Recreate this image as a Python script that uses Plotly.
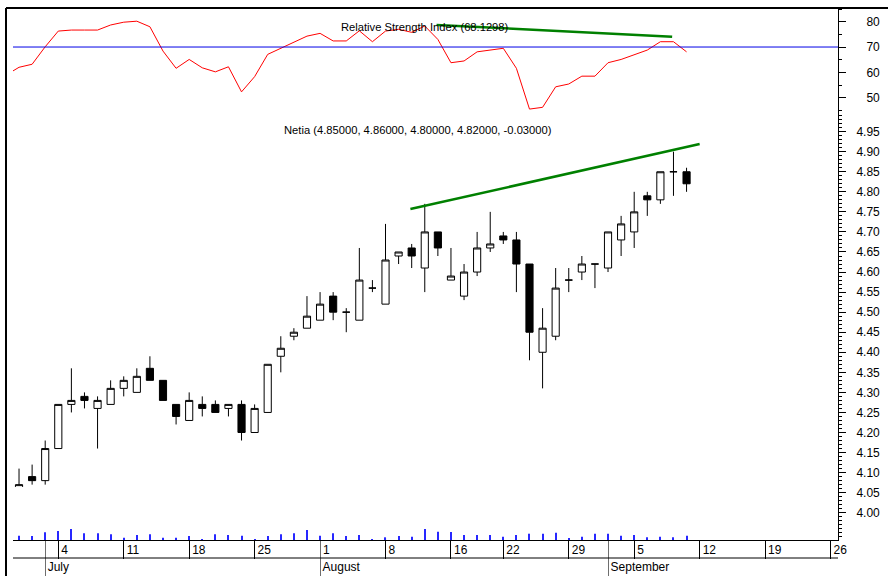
import plotly.graph_objects as go

# Netia daily candles, 29 Jun - 9 Sep 2005; x is the trading-day number (0 = 29 Jun)
day_idx = list(range(52))
opens = [4.05, 4.09, 4.08, 4.16, 4.27, 4.29, 4.26, 4.27, 4.31, 4.30,
         4.36, 4.33, 4.27, 4.23, 4.27, 4.27, 4.26, 4.27, 4.20, 4.25,
         4.39, 4.44, 4.46, 4.48, 4.54, 4.50, 4.48, 4.56, 4.52, 4.64,
         4.66, 4.61, 4.70, 4.58, 4.54, 4.60, 4.66, 4.69, 4.68, 4.62,
         4.40, 4.44, 4.58, 4.60, 4.62, 4.61, 4.68, 4.70, 4.79, 4.78,
         4.85, 4.85]
highs = [4.11, 4.12, 4.18, 4.27, 4.36, 4.30, 4.29, 4.33, 4.34, 4.36,
         4.39, 4.33, 4.27, 4.30, 4.29, 4.28, 4.27, 4.28, 4.27, 4.37,
         4.44, 4.46, 4.54, 4.55, 4.55, 4.51, 4.66, 4.58, 4.72, 4.65,
         4.67, 4.77, 4.70, 4.66, 4.62, 4.70, 4.75, 4.70, 4.70, 4.62,
         4.51, 4.61, 4.61, 4.64, 4.62, 4.70, 4.74, 4.80, 4.80, 4.85,
         4.90, 4.86]
lows = [4.05, 4.07, 4.07, 4.16, 4.25, 4.26, 4.16, 4.27, 4.29, 4.30,
        4.33, 4.28, 4.22, 4.23, 4.24, 4.25, 4.24, 4.18, 4.20, 4.25,
        4.35, 4.43, 4.46, 4.48, 4.48, 4.45, 4.48, 4.55, 4.52, 4.62,
        4.61, 4.55, 4.64, 4.58, 4.53, 4.59, 4.65, 4.67, 4.55, 4.38,
        4.31, 4.43, 4.55, 4.58, 4.56, 4.60, 4.64, 4.66, 4.74, 4.77,
        4.79, 4.80]
closes = [4.07, 4.08, 4.16, 4.27, 4.28, 4.28, 4.28, 4.31, 4.33, 4.34,
          4.33, 4.28, 4.24, 4.28, 4.26, 4.25, 4.27, 4.20, 4.26, 4.37,
          4.41, 4.45, 4.49, 4.52, 4.50, 4.50, 4.58, 4.56, 4.63, 4.65,
          4.64, 4.70, 4.66, 4.59, 4.60, 4.66, 4.67, 4.68, 4.62, 4.45,
          4.46, 4.56, 4.58, 4.62, 4.62, 4.70, 4.72, 4.75, 4.78, 4.85,
          4.85, 4.82]
volume = [430, 400, 770, 900, 1100, 670, 670, 570, 230, 500,
          570, 230, 230, 400, 100, 570, 500, 430, 100, 400,
          570, 670, 1000, 430, 670, 400, 500, 100, 270, 400,
          330, 1100, 830, 800, 500, 500, 500, 330, 500, 630,
          630, 730, 200, 330, 630, 630, 430, 500, 270, 330,
          270, 430]

# RSI starts one day before the first visible candle
rsi_idx = list(range(-1, 52))
rsi = [58.9, 62.0, 63.2, 70.1, 76.3, 76.7, 76.7, 76.7, 78.7, 79.8,
       80.2, 78.0, 68.4, 61.6, 65.1, 61.8, 60.2, 62.2, 52.3, 58.3,
       67.1, 69.5, 72.1, 74.3, 75.4, 72.4, 72.4, 76.4, 72.1, 76.3,
       77.0, 75.8, 78.3, 73.0, 63.8, 64.5, 68.1, 68.8, 69.5, 61.6,
       45.5, 46.2, 54.3, 55.4, 58.5, 58.5, 63.8, 65.1, 66.8, 68.8,
       72.1, 72.1, 68.1]

# hand drawn trend lines
price_trend_x = [29.9, 52.0]
price_trend_y = [4.757, 4.919]
rsi_trend_x = [31.9, 49.9]
rsi_trend_y = [78.7, 74.1]

day_ticks = [3, 8, 13, 18, 23, 28, 33, 37, 42, 47, 52, 57, 62]
day_labels = ["4", "11", "18", "25", "1", "8", "16", "22", "29", "5", "12", "19", "26"]
month_ticks = [2, 23, 45]
month_labels = ["July", "August", "September"]
price_ticks = [4.00, 4.05, 4.10, 4.15, 4.20, 4.25, 4.30, 4.35, 4.40, 4.45,
               4.50, 4.55, 4.60, 4.65, 4.70, 4.75, 4.80, 4.85, 4.90, 4.95]
rsi_ticks = [50, 60, 70, 80]

W, H = 888, 576
ML, MR, MT, MB = 13, 50, 9, 36
PW = W - ML - MR
PH = H - MT - MB
FONT = dict(family="Liberation Sans, Arial, sans-serif", size=12, color="black")
TITLE_FONT = dict(family="Liberation Sans, Arial, sans-serif", size=11.2, color="black")

fig = go.Figure()

fig.add_trace(go.Bar(x=day_idx, y=volume, yaxis="y3", width=0.08,
                     marker=dict(color="rgb(40,40,255)", line=dict(width=0)),
                     hoverinfo="skip"))

fig.add_trace(go.Candlestick(
    x=day_idx, open=opens, high=highs, low=lows, close=closes,
    increasing=dict(line=dict(color="black", width=1), fillcolor="white"),
    decreasing=dict(line=dict(color="black", width=1), fillcolor="black"),
    whiskerwidth=0))

fig.add_trace(go.Scatter(x=price_trend_x, y=price_trend_y, mode="lines",
                         line=dict(color="rgb(0,128,0)", width=2.5)))

fig.add_trace(go.Scatter(x=rsi_idx, y=rsi, yaxis="y2", mode="lines",
                         line=dict(color="rgb(255,0,0)", width=1)))
fig.add_trace(go.Scatter(x=rsi_trend_x, y=rsi_trend_y, yaxis="y2", mode="lines",
                         line=dict(color="rgb(0,128,0)", width=2.5)))

# empty trace so the month axis gets drawn
fig.add_trace(go.Scatter(x=month_ticks, y=[None] * len(month_ticks), xaxis="x2",
                         mode="lines", hoverinfo="skip"))

xr = [-0.46, 62.57]

fig.update_layout(
    width=W, height=H,
    margin=dict(l=ML, r=MR, t=MT, b=MB, autoexpand=False),
    paper_bgcolor="white", plot_bgcolor="white",
    showlegend=False, font=FONT, boxgap=0.22,
    xaxis=dict(range=xr, tickmode="array", tickvals=day_ticks, ticktext=day_labels,
               ticks="outside", ticklen=18, tickcolor="black", tickwidth=1,
               showline=True, linecolor="black", linewidth=1,
               showgrid=False, zeroline=False, rangeslider=dict(visible=False),
               ticklabelposition="outside right", ticklabelshift=2,
               ticklabelstandoff=-1, tickfont=FONT, anchor="y"),
    xaxis2=dict(range=xr, overlaying="x", anchor="y", side="bottom",
                tickmode="array", tickvals=month_ticks, ticktext=month_labels,
                ticks="outside", ticklen=36, tickcolor="rgb(110,110,110)",
                showline=False, showgrid=False, zeroline=False,
                ticklabelposition="outside right", ticklabelshift=2,
                ticklabelstandoff=16, tickfont=FONT),
    yaxis=dict(domain=[0, 0.8], range=[3.932, 4.991], side="right", anchor="x",
               tickmode="array", tickvals=price_ticks, tickformat=".2f",
               ticks="outside", ticklen=7, tickcolor="black",
               showline=True, linecolor="black", showgrid=False, zeroline=False,
               minor=dict(tickmode="linear", tick0=0, dtick=0.01, ticks="outside",
                          ticklen=3, tickcolor="black", showgrid=False),
               ticklabelstandoff=8, tickfont=FONT),
    yaxis2=dict(domain=[0.8, 1], range=[43.09, 85.01], side="right", anchor="x",
                tickmode="array", tickvals=rsi_ticks,
                ticks="outside", ticklen=7, tickcolor="black",
                showline=True, linecolor="black", showgrid=False, zeroline=False,
                minor=dict(tickmode="linear", tick0=0, dtick=5, ticks="outside",
                           ticklen=3, tickcolor="black", showgrid=False),
                ticklabelstandoff=18, tickfont=FONT),
    yaxis3=dict(domain=[0, 0.1], range=[0, 5310], anchor="x", visible=False),
)

shapes = [
    # RSI 70 level
    dict(type="line", xref="x domain", x0=0, x1=1, yref="y2", y0=70, y1=70,
         line=dict(color="rgb(0,0,230)", width=1)),
    # line between day row and month row
    dict(type="line", xref="x domain", x0=0, x1=1, yref="paper",
         y0=-18 / PH, y1=-18 / PH, line=dict(color="black", width=1)),
    # chart frame, top and left
    dict(type="line", xref="paper", x0=-7 / PW, x1=(W - ML) / PW, yref="paper",
         y0=1 + 1 / PH, y1=1 + 1 / PH, line=dict(color="black", width=2)),
    dict(type="line", xref="paper", x0=-7 / PW, x1=-7 / PW, yref="paper",
         y0=-MB / PH, y1=1 + 1 / PH, line=dict(color="black", width=2)),
]
fig.update_layout(shapes=shapes)

fig.add_annotation(text="Relative Strength Index (68.1298)", xref="paper", yref="paper",
                   x=(424.5 - ML) / PW, y=(H - MB - 27) / PH, showarrow=False,
                   xanchor="center", yanchor="middle", font=TITLE_FONT)
fig.add_annotation(text="Netia (4.85000, 4.86000, 4.80000, 4.82000, -0.03000)",
                   xref="paper", yref="paper",
                   x=(418 - ML) / PW, y=(H - MB - 130) / PH, showarrow=False,
                   xanchor="center", yanchor="middle", font=TITLE_FONT)

# page body has an 8px margin by default; drop it so the chart fills the window
fig.write_html("out.html", config={"displayModeBar": False},
               post_script="document.body.style.margin = '0';")
